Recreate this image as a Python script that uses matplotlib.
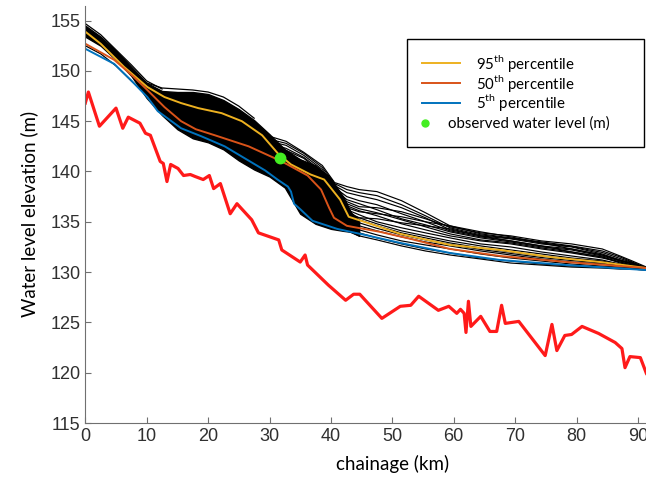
import matplotlib
matplotlib.use("Agg")
import matplotlib.pyplot as plt
from matplotlib.lines import Line2D
from matplotlib.patches import Rectangle

plt.rcParams['font.family'] = ['Lato', 'DejaVu Sans']
plt.rcParams['mathtext.fontset'] = 'custom'
plt.rcParams['mathtext.rm'] = 'Lato'

# river bed (red)
bed_x = [0, 0.5, 2.3, 5.0, 6.1, 7.0, 8.9, 9.8, 10.6, 12.2, 12.7, 13.3, 13.9, 15.1, 16.0, 17.1, 17.9,
         19.2, 20.2, 20.9, 22.0, 23.6, 24.7, 27.1, 28.2, 31.5, 32.0, 35.0, 35.8, 36.2, 39.6, 42.4,
         43.7, 44.7, 48.3, 51.3, 53.0, 54.3, 57.5, 59.2, 60.5, 61.1, 61.7, 62.0, 62.4, 62.8, 64.4,
         65.9, 67.0, 67.8, 68.4, 70.6, 74.9, 76.0, 76.8, 78.1, 79.2, 80.9, 83.6, 86.3, 87.4, 87.9,
         88.7, 90.4, 91.4, 92.5]
bed_y = [146.8, 147.9, 144.5, 146.3, 144.3, 145.4, 144.8, 143.8, 143.6, 141.0, 140.8, 139.0, 140.7,
         140.3, 139.6, 139.7, 139.5, 139.2, 139.6, 138.3, 138.8, 135.8, 136.8, 135.2, 133.9, 133.2,
         132.2, 131.0, 131.7, 130.7, 128.7, 127.2, 127.8, 127.8, 125.4, 126.6, 126.7, 127.6, 126.2,
         126.6, 125.9, 126.3, 125.9, 124.0, 127.1, 124.6, 125.6, 124.1, 124.1, 126.7, 124.9, 125.1,
         121.7, 124.8, 122.2, 123.7, 123.8, 124.6, 123.9, 123.0, 122.4, 120.5, 121.6, 121.5, 119.9,
         119.0]

# dense part of the ensemble
core_x = [0, 2.5, 5, 7.5, 10, 12.5, 15, 17.5, 20, 22.5, 25, 27.5, 30, 32.5, 35, 37.5, 40, 42, 43.3, 44.6]
core_hi = [154.5, 153.4, 152.0, 150.4, 148.8, 148.0, 147.9, 147.9, 147.7, 147.1, 146.2, 145.1,
           143.7, 142.2, 141.2, 140.6, 139.3, 137.5, 135.9, 135.2]
core_lo = [153.4, 152.5, 151.1, 149.5, 147.3, 145.6, 144.2, 143.3, 142.9, 142.2, 141.1, 140.2,
           139.5, 138.4, 135.8, 134.8, 134.3, 134.1, 134.0, 133.6]

# individual ensemble members visible outside the dense part
early_x = [0, 2.5, 5, 7.5, 10, 12.5]
early_runs = [
    [152.5, 151.7, 150.5, 149.0, 147.6, 146.3],
    [154.7, 153.6, 152.1, 150.6, 149.0, 148.2],
]
upper_x = [10, 12.5, 15, 17.5, 20, 22.5, 25, 27.5]
upper_run = [148.8, 148.3, 148.2, 148.1, 147.9, 147.4, 146.5, 145.3]

late_x = [30, 32.7, 35.6, 38.6, 40.6, 42.6, 44.6, 47.5, 51.5, 55.4, 59.4, 64.4, 69.3, 74.3,
          79.2, 84.2, 87.1, 89.1, 91.4, 93]
late_runs = [
    [143.5, 143.0, 141.9, 140.6, 138.9, 138.5, 138.2, 138.0, 137.1, 135.9, 134.6, 133.8, 133.4, 133.0, 132.6, 132.1, 131.5, 131.0, 130.4, 130.3],
    [143.2, 142.8, 141.8, 140.4, 138.8, 138.2, 137.9, 137.6, 136.7, 135.6, 134.4, 133.7, 133.35, 132.9, 132.55, 131.95, 131.35, 130.95, 130.4, 130.3],
    [143.0, 142.6, 141.6, 140.2, 138.6, 137.9, 137.6, 137.2, 136.4, 135.4, 134.2, 133.6, 133.3, 132.8, 132.5, 131.8, 131.2, 130.9, 130.4, 130.3],
    [142.8, 142.3, 141.4, 140.0, 138.4, 137.5, 137.1, 136.7, 135.8, 135.0, 134.1, 133.5, 133.1, 132.6, 132.3, 131.7, 131.15, 130.85, 130.4, 130.3],
    [142.5, 142.1, 141.3, 139.8, 138.2, 137.2, 136.8, 136.2, 135.3, 134.7, 134.0, 133.4, 133.0, 132.5, 132.2, 131.6, 131.1, 130.8, 130.4, 130.3],
    [142.3, 141.8, 141.0, 139.6, 138.1, 137.0, 136.5, 136.4, 136.0, 135.3, 134.5, 133.9, 133.6, 133.1, 132.8, 132.3, 131.6, 131.1, 130.5, 130.4],
    [142.2, 141.6, 140.8, 139.5, 138.0, 136.8, 136.3, 135.9, 135.2, 134.5, 133.8, 133.2, 132.9, 132.4, 132.0, 131.5, 131.0, 130.7, 130.4, 130.3],
    [142.0, 141.5, 140.7, 139.4, 137.9, 136.6, 136.1, 135.6, 134.8, 134.2, 133.6, 133.1, 132.8, 132.3, 131.9, 131.4, 131.0, 130.7, 130.4, 130.3],
    [141.8, 141.2, 140.4, 139.2, 137.6, 136.0, 135.4, 135.3, 134.9, 134.6, 134.3, 133.6, 133.1, 132.6, 132.0, 131.5, 130.9, 130.6, 130.3, 130.3],
    [141.6, 141.0, 140.3, 139.1, 137.5, 136.4, 136.0, 135.8, 135.5, 135.0, 134.6, 134.0, 133.5, 132.9, 132.3, 131.7, 131.2, 130.8, 130.4, 130.3],
    [141.5, 140.9, 140.2, 139.0, 137.4, 136.2, 135.7, 135.0, 134.4, 133.9, 133.4, 132.8, 132.5, 132.0, 131.6, 131.2, 130.8, 130.6, 130.3, 130.3],
    [141.2, 140.6, 139.8, 138.6, 137.0, 135.8, 135.4, 134.8, 134.1, 133.6, 133.1, 132.6, 132.2, 131.8, 131.4, 131.1, 130.75, 130.55, 130.3, 130.3],
    [141.0, 140.3, 139.5, 138.3, 136.7, 135.6, 135.2, 134.6, 133.9, 133.4, 132.9, 132.4, 132.0, 131.6, 131.3, 131.0, 130.7, 130.5, 130.3, 130.3],
    [140.8, 140.0, 139.0, 137.8, 136.3, 135.3, 134.9, 134.35, 133.7, 133.2, 132.75, 132.25, 131.85, 131.45, 131.15, 130.9, 130.65, 130.45, 130.3, 130.2],
    [140.5, 139.7, 138.6, 137.4, 135.9, 135.0, 134.6, 134.1, 133.5, 133.0, 132.6, 132.1, 131.7, 131.3, 131.0, 130.8, 130.6, 130.4, 130.3, 130.2],
    [140.2, 138.8, 136.8, 135.5, 134.8, 134.3, 133.9, 133.4, 132.8, 132.3, 131.9, 131.4, 131.1, 130.8, 130.6, 130.5, 130.4, 130.3, 130.2, 130.2],
    [140.0, 139.0, 137.5, 136.2, 135.2, 134.6, 134.2, 133.7, 133.1, 132.7, 132.3, 131.8, 131.4, 131.1, 130.8, 130.6, 130.5, 130.4, 130.3, 130.2],
    [139.8, 138.4, 136.0, 134.9, 134.5, 134.1, 133.6, 133.2, 132.6, 132.1, 131.7, 131.3, 130.9, 130.7, 130.5, 130.4, 130.3, 130.3, 130.2, 130.2],
]

# percentiles
p95_x = [0, 2.5, 6.3, 10.1, 12.9, 15.6, 18.4, 22.2, 25.5, 28.8, 31.5, 33.5, 36.7, 38.9, 41.5,
         42.9, 46.9, 51.3, 59.4, 67.6, 75.7, 83.9, 91.4, 93]
p95_y = [153.9, 152.7, 150.4, 148.4, 147.4, 146.8, 146.3, 145.8, 145.0, 143.6, 141.7, 140.7,
         139.7, 139.2, 137.2, 135.5, 134.7, 133.8, 132.7, 132.2, 131.5, 131.0, 130.4, 130.3]
p50_x = [0, 4.7, 7.9, 10.1, 12.9, 15.6, 18.0, 21.1, 26.6, 32.0, 36.2, 38.4, 39.7, 40.5, 42.6,
         48.0, 53.0, 59.4, 67.6, 78.4, 91.4, 93]
p50_y = [152.7, 151.1, 149.4, 148.1, 146.4, 145.0, 144.2, 143.6, 142.5, 141.0, 139.6, 138.2,
         136.4, 135.4, 134.6, 134.0, 133.3, 132.3, 131.6, 131.0, 130.4, 130.3]
p5_x = [0, 4.7, 7.4, 10.1, 11.8, 15.6, 18.9, 22.7, 26.0, 29.3, 31.3, 33.0, 33.5, 34.0, 35.1,
        37.0, 41.0, 45.5, 51.3, 59.4, 67.6, 78.4, 91.4, 93]
p5_y = [152.2, 150.7, 149.1, 147.4, 146.0, 144.3, 143.5, 142.5, 141.3, 140.1, 139.2, 138.5,
        138.0, 136.8, 136.2, 135.1, 134.3, 133.7, 132.9, 131.9, 131.2, 130.7, 130.2, 130.1]

obs_x = [31.7]
obs_y = [141.3]

W, H = 646, 483
fig = plt.figure(figsize=(W / 100, H / 100), dpi=100)
ax = fig.add_axes([85.3 / W, 60 / H, 614 / W, 417.5 / H])

ax.fill_between(core_x, core_lo, core_hi, color='black', lw=1.0)
for run in early_runs:
    ax.plot(early_x, run, color='black', lw=0.9)
ax.plot(upper_x, upper_run, color='black', lw=0.9)
for run in late_runs:
    ax.plot(late_x, run, color='black', lw=0.85)

ax.plot(p95_x, p95_y, color='#EDB120', lw=1.4)
ax.plot(p50_x, p50_y, color='#D95319', lw=1.4)
ax.plot(p5_x, p5_y, color='#0072BD', lw=1.4)
ax.plot(bed_x, bed_y, color='#FF1A1A', lw=2.3)
ax.plot(obs_x, obs_y, 'o', color='#44EE22', ms=7.5, zorder=5)

ax.set_xlim(0, 100)
ax.set_ylim(115, 156.5)
ax.set_xticks(range(0, 91, 10))
ax.set_yticks(range(115, 156, 5))
ax.spines['top'].set_visible(False)
ax.spines['right'].set_visible(False)
for s in ['left', 'bottom']:
    ax.spines[s].set_color('#707070')
ax.tick_params(direction='in', length=4, color='#707070', labelsize=13, labelcolor='#303030')
for lab in ax.get_xticklabels() + ax.get_yticklabels():
    lab.set_family(['Liberation Sans Narrow', 'Liberation Sans', 'DejaVu Sans'])
ax.set_xlabel('chainage (km)', fontsize=13.5, labelpad=7)
ax.set_ylabel('Water level elevation (m)', fontsize=13.5, labelpad=9)


# legend drawn by hand (MATLAB style layout)
def fx(px):
    return px / W


def fy(py):
    return 1 - py / H


fig.add_artist(Rectangle((fx(407), fy(147)), fx(644) - fx(407), fy(39) - fy(147),
                         transform=fig.transFigure, fill=True, facecolor='white',
                         edgecolor='black', lw=1.0))
leg_labels = ['95$^{\\mathrm{th}}$ percentile', '50$^{\\mathrm{th}}$ percentile',
              '5$^{\\mathrm{th}}$ percentile']
leg_colors = ['#EDB120', '#D95319', '#0072BD']
leg_rows = [63.3, 83.3, 102.7]
for lab, col, py in zip(leg_labels, leg_colors, leg_rows):
    fig.add_artist(Line2D([fx(422), fx(460)], [fy(py), fy(py)], color=col, lw=1.4,
                          transform=fig.transFigure))
    fig.text(fx(476), fy(py), lab, fontsize=10.8, va='center', ha='left')
fig.add_artist(Line2D([fx(425)], [fy(123.3)], marker='o', color='#44EE22', ms=5,
                      transform=fig.transFigure))
fig.text(fx(448), fy(123.3), 'observed water level (m)', fontsize=10.8, va='center', ha='left')

fig.savefig('out.png', dpi=100)
